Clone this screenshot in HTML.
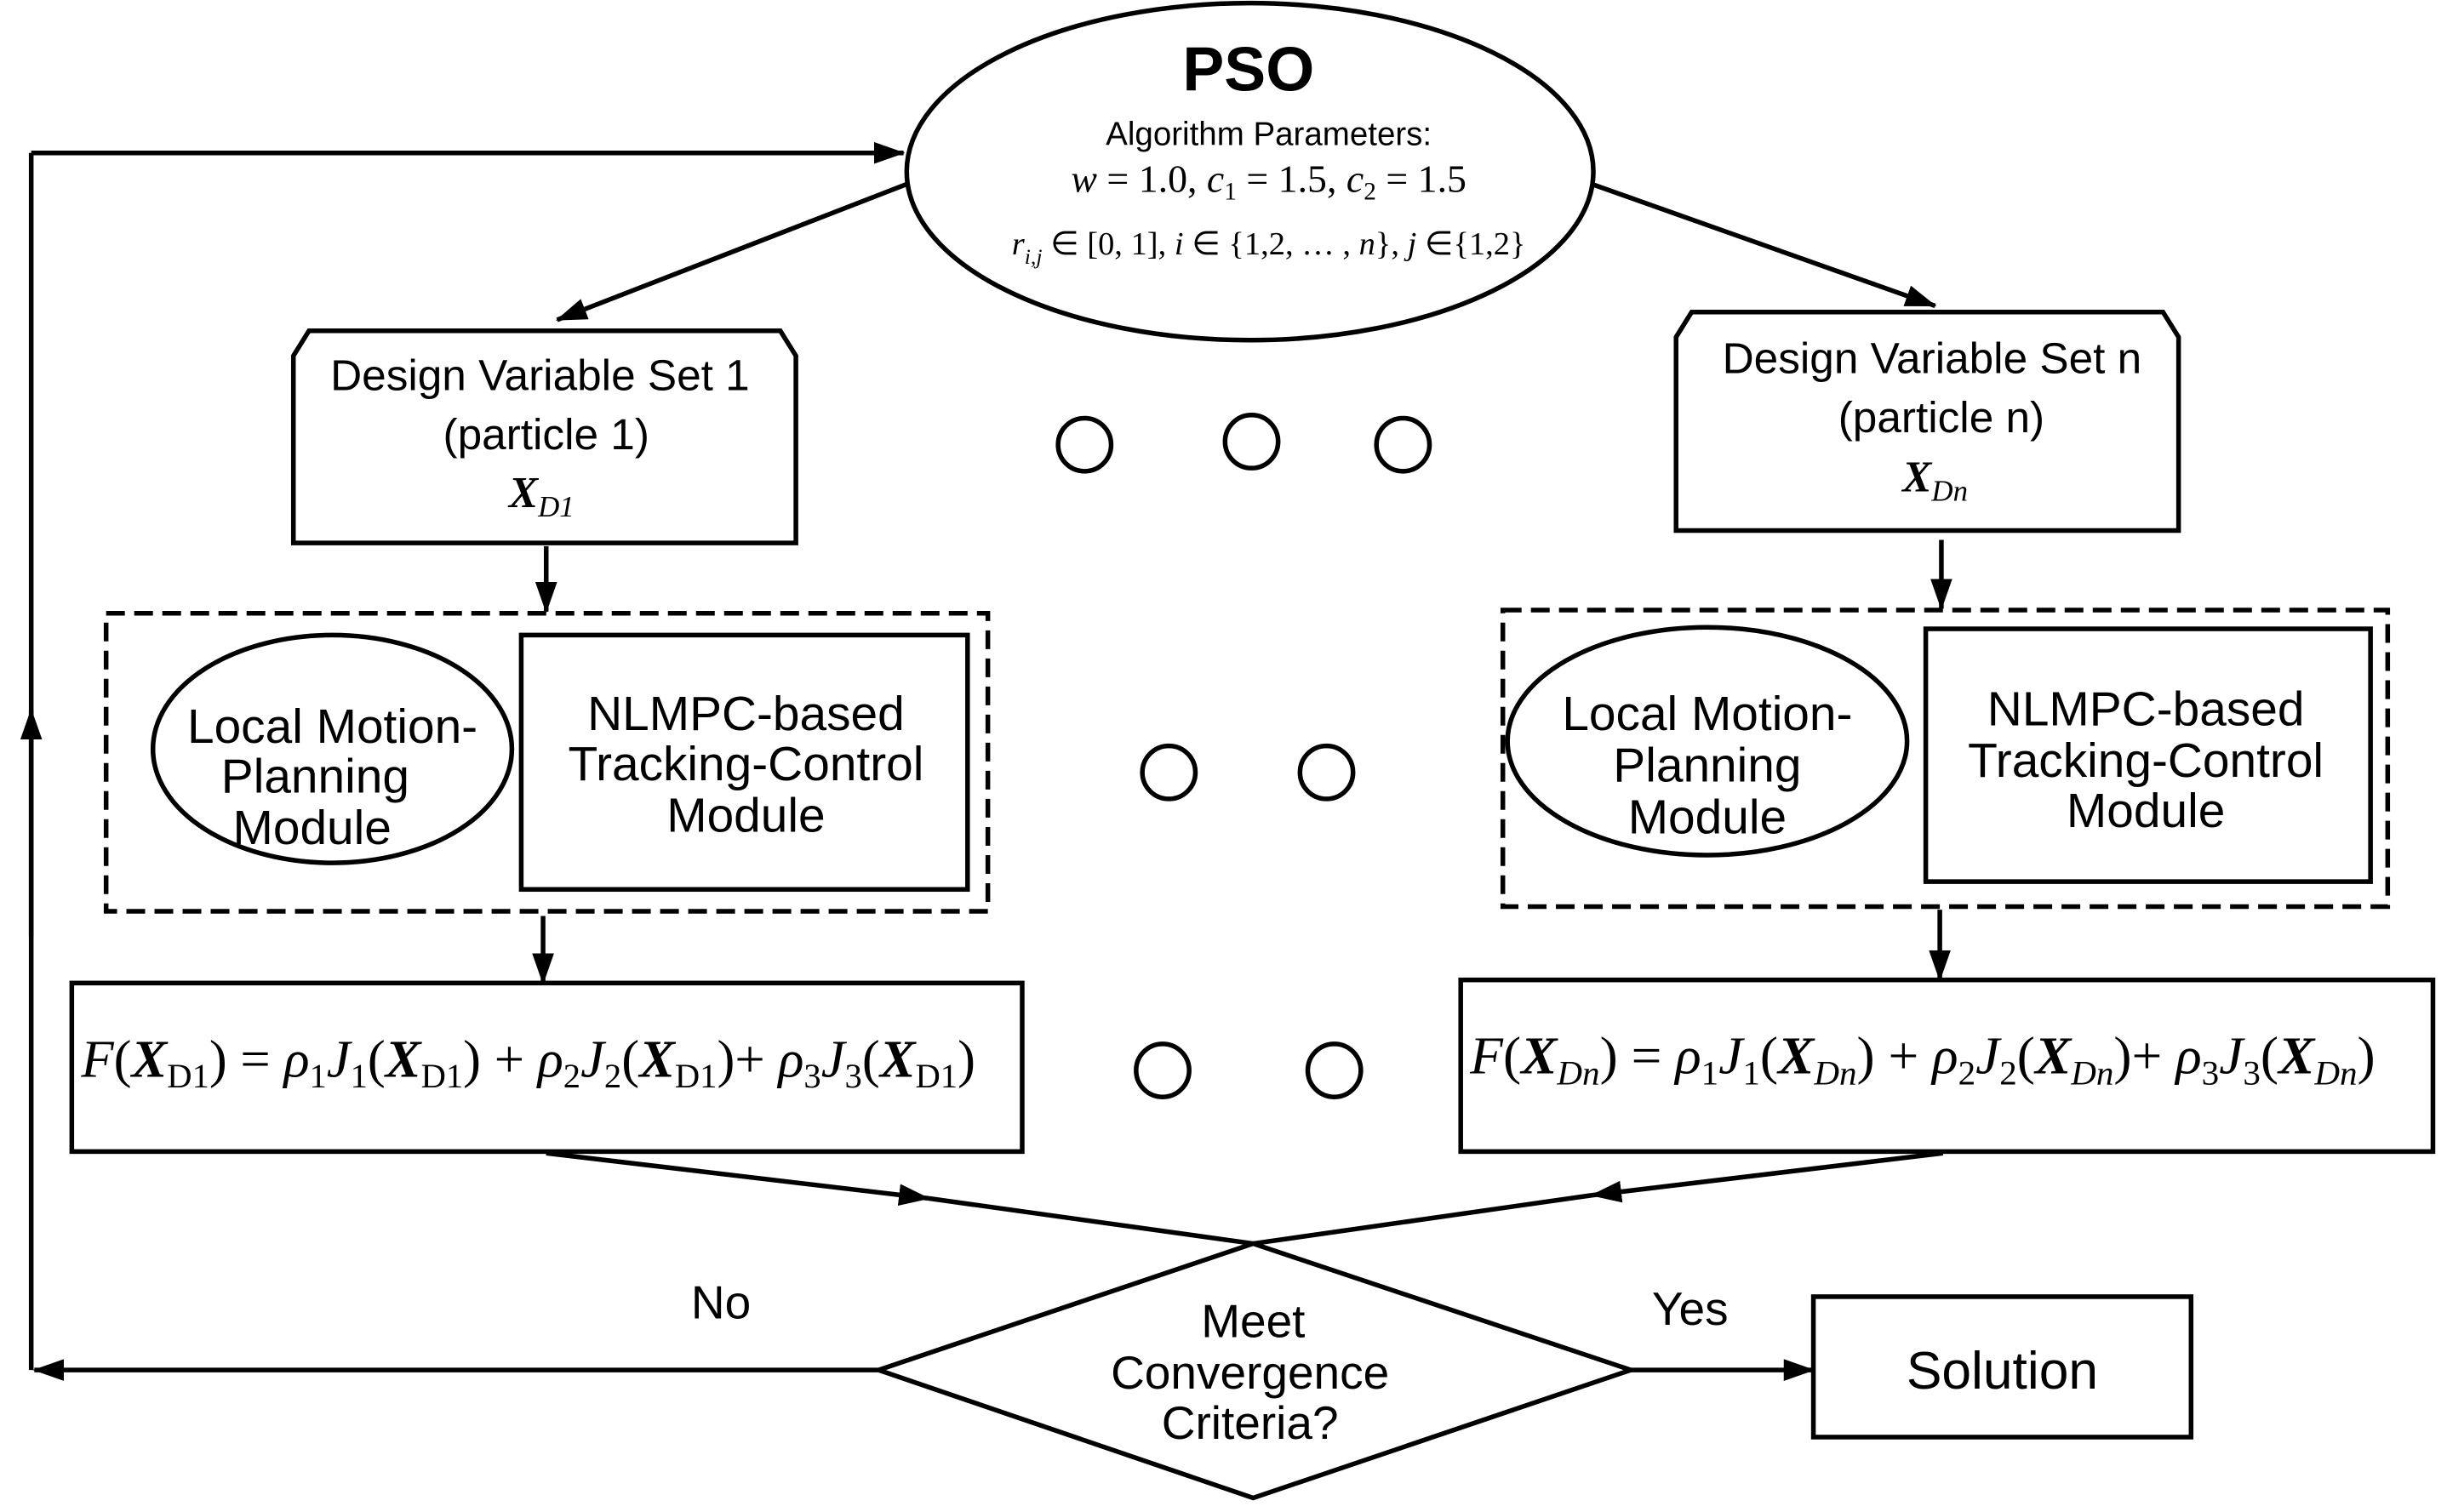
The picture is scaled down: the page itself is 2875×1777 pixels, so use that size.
<!DOCTYPE html>
<html><head><meta charset="utf-8"><style>
html,body{margin:0;padding:0;background:#fff}
svg{display:block}
text{font-family:"Liberation Sans",sans-serif;fill:#000}
.m{font-family:"Liberation Serif",serif;font-style:italic}
.b{font-weight:bold}
</style></head><body>
<svg width="2875" height="1777" viewBox="0 0 1568 969" preserveAspectRatio="none" xmlns="http://www.w3.org/2000/svg">
<defs><marker id="a2" markerWidth="20" markerHeight="14" refX="19" refY="7" orient="auto" markerUnits="userSpaceOnUse" viewBox="0 0 20 14"><path d="M0,0 L20,7 L0,14 z" fill="#000"/></marker></defs>
<g stroke="#000" stroke-width="3" fill="none">
<ellipse cx="801" cy="110" rx="220" ry="108"/>
<line x1="20" y1="98" x2="579" y2="98" marker-end="url(#a2)"/>
<line x1="20" y1="878" x2="20" y2="98"/>
<line x1="20" y1="600" x2="20" y2="455" marker-end="url(#a2)"/>
<line x1="563" y1="878" x2="22" y2="878" marker-end="url(#a2)"/>
<line x1="581" y1="118" x2="357" y2="205" marker-end="url(#a2)"/>
<line x1="1020" y1="118" x2="1240" y2="196" marker-end="url(#a2)"/>
<path d="M188,348 L188,228 L198,212 L500,212 L510,228 L510,348 Z"/>
<path d="M1074,340 L1074,216 L1084,200 L1386,200 L1396,216 L1396,340 Z"/>
<circle cx="695" cy="285" r="17"/><circle cx="802" cy="283" r="17"/><circle cx="899" cy="285" r="17"/>
<circle cx="749" cy="495" r="17"/><circle cx="850" cy="495" r="17"/>
<circle cx="745" cy="686" r="17"/><circle cx="855" cy="686" r="17"/>
<line x1="350" y1="350" x2="350" y2="392" marker-end="url(#a2)"/>
<rect x="68" y="393" width="565" height="191" stroke-dasharray="12,6"/>
<ellipse cx="213" cy="480" rx="115" ry="73"/>
<rect x="334" y="407" width="286" height="163"/>
<line x1="1244" y1="346" x2="1244" y2="390" marker-end="url(#a2)"/>
<rect x="963" y="391" width="567" height="190" stroke-dasharray="12,6"/>
<ellipse cx="1094" cy="475" rx="128" ry="73"/>
<rect x="1234" y="403" width="285" height="162"/>
<line x1="348" y1="587" x2="348" y2="630" marker-end="url(#a2)"/>
<line x1="1243" y1="583" x2="1243" y2="628" marker-end="url(#a2)"/>
<rect x="46" y="630" width="609" height="108"/>
<rect x="936" y="628" width="623" height="110"/>
<line x1="350" y1="739" x2="595" y2="768" marker-end="url(#a2)"/>
<line x1="595" y1="768" x2="803" y2="797"/>
<line x1="1245" y1="739" x2="1020" y2="766" marker-end="url(#a2)"/>
<line x1="1020" y1="766" x2="803" y2="797"/>
<path d="M803,797 L1045,878 L803,960 L563,878 Z"/>
<line x1="1045" y1="878" x2="1162" y2="878" marker-end="url(#a2)"/>
<rect x="1162" y="831" width="242" height="90"/>
</g>
<g text-anchor="middle">
<text x="800" y="58" font-size="40" class="b">PSO</text>
<text x="813" y="93" font-size="21">Algorithm Parameters:</text>
<text x="813" y="123" font-size="25" class="m">w <tspan font-style="normal">= 1.0,</tspan> c<tspan font-size="16" dy="5" font-style="normal">1</tspan><tspan dy="-5" font-style="normal"> = 1.5,</tspan> c<tspan font-size="16" dy="5" font-style="normal">2</tspan><tspan dy="-5" font-style="normal"> = 1.5</tspan></text>
<text x="813" y="163" font-size="21" class="m">r<tspan font-size="14" dy="6">i,j</tspan><tspan dy="-6" font-style="normal"> ∈ [0, 1], </tspan>i<tspan font-style="normal"> ∈ {1,2, … , </tspan>n<tspan font-style="normal">}, </tspan>j<tspan font-style="normal"> ∈{1,2}</tspan></text>
<text x="346" y="250" font-size="28">Design Variable Set 1</text>
<text x="350" y="288" font-size="28">(particle 1)</text>
<text x="347" y="325" font-size="28" class="m b">X<tspan font-size="19" dy="6" font-weight="normal">D1</tspan></text>
<text x="1238" y="239" font-size="28">Design Variable Set n</text>
<text x="1244" y="277" font-size="28">(particle n)</text>
<text x="1240" y="315" font-size="28" class="m b">X<tspan font-size="19" dy="6" font-weight="normal">Dn</tspan></text>
<text x="213" y="476" font-size="31">Local Motion-</text>
<text x="202" y="508" font-size="31">Planning</text>
<text x="200" y="541" font-size="31">Module</text>
<text x="478" y="468" font-size="31">NLMPC-based</text>
<text x="478" y="500" font-size="31">Tracking-Control</text>
<text x="478" y="533" font-size="31">Module</text>
<text x="1094" y="468" font-size="31">Local Motion-</text>
<text x="1094" y="501" font-size="31">Planning</text>
<text x="1094" y="534" font-size="31">Module</text>
<text x="1375" y="465" font-size="31">NLMPC-based</text>
<text x="1375" y="498" font-size="31">Tracking-Control</text>
<text x="1375" y="530" font-size="31">Module</text>
<text x="803" y="857" font-size="30">Meet</text>
<text x="801" y="890" font-size="30">Convergence</text>
<text x="801" y="922" font-size="30">Criteria?</text>
<text x="462" y="845" font-size="30">No</text>
<text x="1083" y="849" font-size="30">Yes</text>
<text x="1283" y="890" font-size="34">Solution</text>
</g>
<text x="52" y="690" font-size="34" class="m" textLength="573" lengthAdjust="spacingAndGlyphs">F<tspan font-style="normal">(</tspan><tspan font-weight="bold">X</tspan><tspan font-size="22" dy="7" font-style="normal">D1</tspan><tspan dy="-7" font-style="normal">) = </tspan>ρ<tspan font-size="22" dy="7" font-style="normal">1</tspan><tspan dy="-7">J</tspan><tspan font-size="22" dy="7" font-style="normal">1</tspan><tspan dy="-7" font-style="normal">(</tspan><tspan font-weight="bold">X</tspan><tspan font-size="22" dy="7" font-style="normal">D1</tspan><tspan dy="-7" font-style="normal">) + </tspan>ρ<tspan font-size="22" dy="7" font-style="normal">2</tspan><tspan dy="-7">J</tspan><tspan font-size="22" dy="7" font-style="normal">2</tspan><tspan dy="-7" font-style="normal">(</tspan><tspan font-weight="bold">X</tspan><tspan font-size="22" dy="7" font-style="normal">D1</tspan><tspan dy="-7" font-style="normal">)+ </tspan>ρ<tspan font-size="22" dy="7" font-style="normal">3</tspan><tspan dy="-7">J</tspan><tspan font-size="22" dy="7" font-style="normal">3</tspan><tspan dy="-7" font-style="normal">(</tspan><tspan font-weight="bold">X</tspan><tspan font-size="22" dy="7" font-style="normal">D1</tspan><tspan dy="-7" font-style="normal">)</tspan></text>
<text x="942" y="688" font-size="34" class="m" textLength="580" lengthAdjust="spacingAndGlyphs">F<tspan font-style="normal">(</tspan><tspan font-weight="bold">X</tspan><tspan font-size="22" dy="7">Dn</tspan><tspan dy="-7" font-style="normal">) = </tspan>ρ<tspan font-size="22" dy="7" font-style="normal">1</tspan><tspan dy="-7">J</tspan><tspan font-size="22" dy="7" font-style="normal">1</tspan><tspan dy="-7" font-style="normal">(</tspan><tspan font-weight="bold">X</tspan><tspan font-size="22" dy="7">Dn</tspan><tspan dy="-7" font-style="normal">) + </tspan>ρ<tspan font-size="22" dy="7" font-style="normal">2</tspan><tspan dy="-7">J</tspan><tspan font-size="22" dy="7" font-style="normal">2</tspan><tspan dy="-7" font-style="normal">(</tspan><tspan font-weight="bold">X</tspan><tspan font-size="22" dy="7">Dn</tspan><tspan dy="-7" font-style="normal">)+ </tspan>ρ<tspan font-size="22" dy="7" font-style="normal">3</tspan><tspan dy="-7">J</tspan><tspan font-size="22" dy="7" font-style="normal">3</tspan><tspan dy="-7" font-style="normal">(</tspan><tspan font-weight="bold">X</tspan><tspan font-size="22" dy="7">Dn</tspan><tspan dy="-7" font-style="normal">)</tspan></text>
</svg>
</body></html>
